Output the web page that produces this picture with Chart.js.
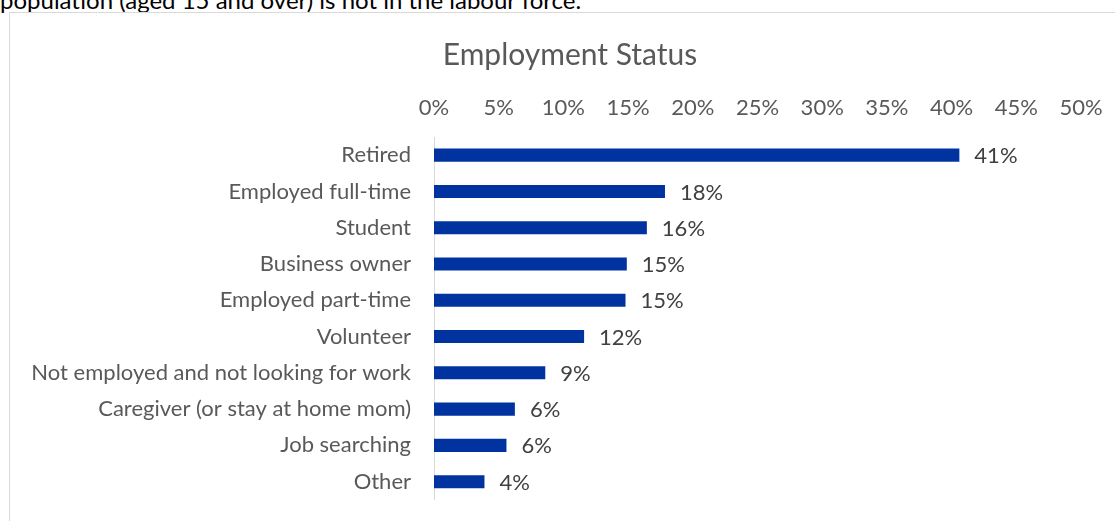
<!DOCTYPE html>
<html>
<head>
<meta charset="utf-8">
<title>Employment Status</title>
<script src="https://cdn.jsdelivr.net/npm/chart.js@4"></script>
<style>
    body { margin: 0; background: #fff; overflow: hidden; width: 1115px; height: 521px; position: relative; }
    #intro {
        position: absolute; left: 0; top: -14px;
        font-family: Lato, sans-serif; font-size: 24px; color: #000;
        white-space: nowrap; line-height: 1.2;
    }
    #box {
        position: absolute; left: 9px; top: 12px;
        width: 1120px; height: 523px;
        border: 1px solid #d9d9d9;
    }
    #status-chart { display: block; }
</style>
</head>
<body>
<div id="intro">population (aged 15 and over) is not in the labour force.</div>
<div id="box"><canvas id="status-chart" width="1120" height="523"></canvas></div>
<script>
// Survey answers, share of respondents in percent
const categories = [
    'Retired',
    'Employed full-time',
    'Student',
    'Business owner',
    'Employed part-time',
    'Volunteer',
    'Not employed and not looking for work',
    'Caregiver (or stay at home mom)',
    'Job searching',
    'Other'
];
const shares = [40.6, 17.85, 16.45, 14.9, 14.8, 11.6, 8.6, 6.25, 5.6, 3.9];
const percentTicks = [0, 5, 10, 15, 20, 25, 30, 35, 40, 45, 50];

const labelFont = { family: 'Lato', size: 22 };
const textGray = '#595959';

// Writes the rounded percentage just right of each bar
const barValueLabels = {
    id: 'barValueLabels',
    afterDatasetsDraw(chart) {
        const ctx = chart.ctx;
        const meta = chart.getDatasetMeta(0);
        ctx.save();
        ctx.font = '22px Lato';
        ctx.fillStyle = '#404040';
        ctx.textAlign = 'left';
        ctx.textBaseline = 'middle';
        meta.data.forEach((bar, i) => {
            const value = chart.data.datasets[0].data[i];
            ctx.fillText(Math.round(value) + '%', bar.x + 15, bar.y + 1);
        });
        ctx.restore();
    }
};

// Centre the title on the whole canvas, not on the padded layout box
const centerTitle = {
    id: 'centerTitle',
    afterLayout(chart) {
        if (chart.titleBlock) {
            chart.titleBlock.left = 0;
            chart.titleBlock.right = chart.width;
        }
    }
};

const ctx = document.getElementById('status-chart').getContext('2d');

new Chart(ctx, {
    type: 'bar',
    data: {
        labels: categories,
        datasets: [{
            data: shares,
            backgroundColor: '#0033a0',
            borderWidth: 0,
            barPercentage: 0.36,
            categoryPercentage: 1
        }]
    },
    options: {
        indexAxis: 'y',
        responsive: false,
        animation: false,
        layout: { padding: { top: 0, left: 0, right: 49, bottom: 0 } },
        plugins: {
            legend: { display: false },
            tooltip: { enabled: false },
            title: {
                display: true,
                text: 'Employment Status',
                color: textGray,
                font: { family: 'Lato', size: 30, weight: 'normal' },
                padding: { top: 24, bottom: 10 }
            }
        },
        scales: {
            x: {
                position: 'top',
                min: 0,
                max: 50,
                afterBuildTicks: scale => {
                    scale.ticks = percentTicks.map(v => ({ value: v }));
                },
                afterFit: scale => { scale.height = 54; },
                ticks: {
                    color: textGray,
                    font: labelFont,
                    padding: 16,
                    maxRotation: 0,
                    callback: v => v + '%'
                },
                grid: { display: false, drawTicks: false },
                border: { display: false }
            },
            y: {
                afterFit: scale => { scale.width = 424; },
                ticks: {
                    color: textGray,
                    font: labelFont,
                    padding: 23
                },
                grid: { display: false, drawTicks: false },
                border: { display: true, color: '#d9d9d9', width: 1 }
            }
        }
    },
    plugins: [barValueLabels, centerTitle]
});
</script>
</body>
</html>
